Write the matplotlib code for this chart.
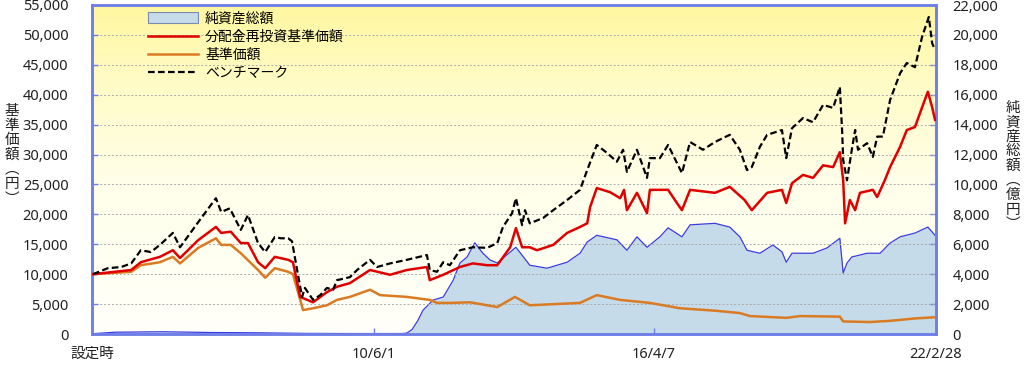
import matplotlib
matplotlib.use("Agg")
import matplotlib.pyplot as plt
import numpy as np
from matplotlib.patches import Patch
from matplotlib.lines import Line2D
from matplotlib.colors import LinearSegmentedColormap

plt.rcParams['font.family'] = ['Noto Sans', 'Noto Sans CJK JP', 'DejaVu Sans']

# ---- data (decimal years, values) ----
bm_t = [2004.54, 2004.85, 2005.13, 2005.34, 2005.54, 2005.75, 2005.94, 2006.21, 2006.36, 2006.74,
        2007.11, 2007.22, 2007.40, 2007.63, 2007.78, 2007.99, 2008.14, 2008.34, 2008.47, 2008.62,
        2008.70, 2008.80, 2008.91, 2008.97, 2009.14, 2009.29, 2009.43, 2009.56, 2009.64, 2009.91,
        2010.06, 2010.33, 2010.48, 2010.75, 2011.10, 2011.52, 2011.58, 2011.73, 2011.86, 2012.00,
        2012.21, 2012.48, 2012.78, 2012.99, 2013.11, 2013.30, 2013.38, 2013.51, 2013.57, 2013.67,
        2013.95, 2014.16, 2014.45, 2014.72, 2014.87, 2015.07, 2015.28, 2015.49, 2015.62, 2015.70,
        2015.91, 2016.12, 2016.18, 2016.39, 2016.56, 2016.85, 2017.02, 2017.29, 2017.54, 2017.85,
        2018.06, 2018.21, 2018.31, 2018.48, 2018.63, 2018.75, 2018.94, 2019.03, 2019.15, 2019.38,
        2019.59, 2019.80, 2020.01, 2020.15, 2020.20, 2020.22, 2020.30, 2020.40, 2020.47, 2020.53,
        2020.72, 2020.84, 2020.93, 2021.05, 2021.20, 2021.41, 2021.55, 2021.72, 2021.87, 2022.01,
        2022.08, 2022.14]
bm_v = [10000, 11000, 11200, 11800, 14000, 13700, 14900, 16900, 14500, 18700,
        22700, 20400, 21000, 17400, 19900, 15200, 13700, 16200, 16000, 16000,
        15500, 11000, 6200, 7700, 5700, 6500, 7700, 7400, 9000, 9500,
        10700, 12400, 11200, 11800, 12400, 13200, 10700, 10400, 12000, 11500,
        14000, 14500, 14400, 15200, 17900, 20200, 22700, 18200, 20700, 18500,
        19400, 20700, 22400, 24100, 27400, 31600, 30300, 28800, 30800, 27100,
        30800, 26100, 29400, 29400, 31600, 26900, 32100, 30800, 32100, 33300,
        30800, 27400, 27900, 31300, 33300, 33600, 34100, 29400, 34400, 36100,
        35400, 38300, 37800, 41300, 33600, 29100, 25700, 30800, 34100, 30800,
        31900, 29600, 33000, 33000, 39100, 43600, 45300, 44600, 49700, 53000,
        48600, 47500]

re_t = [2004.54, 2005.34, 2005.54, 2005.94, 2006.21, 2006.36, 2006.74, 2007.11, 2007.22, 2007.42,
        2007.63, 2007.78, 2007.99, 2008.14, 2008.34, 2008.62, 2008.72, 2008.87, 2009.14, 2009.43,
        2009.64, 2009.91, 2010.33, 2010.75, 2011.10, 2011.52, 2011.58, 2011.86, 2012.21, 2012.48,
        2012.78, 2012.99, 2013.26, 2013.38, 2013.51, 2013.67, 2013.82, 2014.16, 2014.45, 2014.72,
        2014.87, 2014.93, 2015.07, 2015.35, 2015.56, 2015.64, 2015.70, 2015.91, 2016.12, 2016.18,
        2016.56, 2016.77, 2016.85, 2017.02, 2017.54, 2017.85, 2018.16, 2018.31, 2018.63, 2018.94,
        2019.03, 2019.15, 2019.38, 2019.59, 2019.80, 2020.01, 2020.15, 2020.22, 2020.26, 2020.36,
        2020.47, 2020.57, 2020.84, 2020.93, 2021.09, 2021.20, 2021.41, 2021.55, 2021.72, 2021.87,
        2021.99, 2022.08, 2022.14]
re_v = [10000, 10700, 12000, 12900, 14000, 12700, 15700, 17900, 16900, 17100,
        15200, 15200, 12000, 11000, 12900, 12400, 12000, 6200, 5300, 7000,
        7900, 8500, 10700, 9900, 10700, 11200, 9000, 9900, 11200, 11800,
        11500, 11500, 14500, 17700, 14500, 14500, 14000, 14900, 16900, 17900,
        18500, 21200, 24400, 23700, 22700, 24100, 20700, 23600, 20200, 24100,
        24100, 21600, 20700, 24100, 23600, 24600, 22400, 20700, 23600, 24100,
        21900, 25200, 26600, 26100, 28200, 27900, 30400, 25700, 18500, 22400,
        20700, 23600, 24100, 22900, 25700, 27900, 31300, 34100, 34600, 37900,
        40500, 37900, 35800]

nav_t = [2004.54, 2005.34, 2005.54, 2005.94, 2006.21, 2006.36, 2006.74, 2007.11, 2007.22, 2007.42,
         2007.63, 2007.99, 2008.14, 2008.34, 2008.62, 2008.72, 2008.89, 2008.93, 2009.14, 2009.43,
         2009.64, 2009.91, 2010.33, 2010.54, 2011.10, 2011.58, 2011.73, 2012.00, 2012.42, 2012.78,
         2012.99, 2013.36, 2013.67, 2014.72, 2015.07, 2015.56, 2016.18, 2016.81, 2017.54, 2018.06,
         2018.27, 2019.03, 2019.32, 2020.15, 2020.22, 2020.78, 2021.20, 2021.72, 2022.14]
nav_v = [10000, 10400, 11500, 12000, 12900, 11800, 14400, 16000, 14900, 14900,
         13500, 10700, 9400, 11000, 10400, 10000, 5200, 4000, 4300, 4800,
         5700, 6200, 7400, 6500, 6200, 5700, 5200, 5200, 5300, 4800,
         4500, 6200, 4800, 5200, 6500, 5700, 5200, 4300, 3900, 3500,
         3000, 2700, 3000, 2900, 2100, 2000, 2200, 2600, 2800]

na_t = [2004.54, 2005.00, 2006.00, 2007.00, 2008.00, 2009.00, 2010.00, 2011.00, 2011.10, 2011.21,
        2011.33, 2011.44, 2011.65, 2011.86, 2012.07, 2012.21, 2012.36, 2012.52, 2012.69, 2012.84,
        2012.99, 2013.38, 2013.67, 2014.03, 2014.45, 2014.72, 2014.87, 2015.07, 2015.49, 2015.70,
        2015.91, 2016.12, 2016.39, 2016.56, 2016.85, 2017.02, 2017.54, 2017.85, 2018.06, 2018.21,
        2018.48, 2018.75, 2018.94, 2019.03, 2019.15, 2019.59, 2019.88, 2020.15, 2020.22, 2020.30,
        2020.40, 2020.72, 2020.99, 2021.20, 2021.41, 2021.72, 2021.99, 2022.14]
na_v = [20, 120, 150, 100, 80, 40, 30, 30, 60, 300,
        900, 1600, 2270, 2470, 3600, 4750, 5150, 6100, 5400, 4950,
        4750, 5800, 4600, 4400, 4800, 5400, 6150, 6600, 6300, 5600,
        6500, 5800, 6500, 7100, 6500, 7300, 7400, 7150, 6500, 5600,
        5400, 5950, 5500, 4800, 5400, 5400, 5750, 6400, 4080, 4750,
        5150, 5400, 5400, 6080, 6500, 6750, 7150, 6600]

tick_pos = [2004.52, 2010.414, 2016.266, 2022.16]
tick_labels = ['設定時', '10/6/1', '16/4/7', '22/2/28']
left_ticks = list(range(0, 55001, 5000))
right_ticks = list(range(0, 22001, 2000))

# ---- figure ----
fig = plt.figure(figsize=(10.24, 3.70), dpi=100)
ax = fig.add_axes([92/1024, 1-334/370, (936-92)/1024, (334-5)/370])
ax2 = ax.twinx()
ax.set_zorder(2)
ax.patch.set_visible(False)
ax2.set_zorder(1)

spine_c = '#6E7EE6'
# background gradient
cmap = LinearSegmentedColormap.from_list(
    'bg', [(0.0, '#FFFFFA'), (0.45, '#FFFFEA'), (0.75, '#FFFCC8'), (1.0, '#FFF7A0')])
grad = np.linspace(0, 1, 256).reshape(-1, 1)
ax2.imshow(grad, extent=[0, 1, 0, 1], transform=ax2.transAxes, aspect='auto',
           cmap=cmap, origin='lower', zorder=0)

ax2.fill_between(na_t, 0, na_v, color='#C5DBE9', zorder=1, linewidth=0)
ax2.plot(na_t, na_v, color='#3B3BE0', lw=0.9, zorder=2)
ax2.set_ylim(0, 22000)
ax2.set_yticks(right_ticks)
ax2.set_yticklabels([f'{v:,}' for v in right_ticks])

ax.plot(nav_t, nav_v, color='#DA7A22', lw=1.8, zorder=3)
ax.plot(re_t, re_v, color='#E00000', lw=1.8, zorder=4)
ax.plot(bm_t, bm_v, color='#000000', lw=1.6, ls=(0, (3, 1.5)), zorder=5)

ax.set_ylim(0, 55000)
ax.set_xlim(2004.52, 2022.16)
ax.set_yticks(left_ticks)
ax.set_yticklabels([f'{v:,}' for v in left_ticks])
ax.set_xticks(tick_pos)
ax.set_xticklabels(tick_labels)

for y in left_ticks[1:-1]:
    ax.axhline(y, color='#ABABAB', lw=0.7, ls=(0, (2, 2)), zorder=1)

for a in (ax, ax2):
    for s in a.spines.values():
        s.set_color(spine_c)
        s.set_linewidth(1.8)
    a.tick_params(direction='in', color=spine_c, length=4, width=1, labelsize=10.5,
                  labelcolor='#222222')
ax.tick_params(axis='y', pad=17)
ax2.tick_params(axis='y', pad=12)
ax.tick_params(axis='x', pad=9)

# axis titles (vertical stacked)
fig.text(12/1024, 1-155/370, '\n'.join('基準価額︵円︶'), ha='center', va='center',
         fontsize=10.5, linespacing=1.05, family=['Noto Sans CJK JP', 'DejaVu Sans'], color='#222222')
fig.text(1013/1024, 1-166/370, '\n'.join('純資産総額︵億円︶'), ha='center', va='center',
         fontsize=10.5, linespacing=1.05, family=['Noto Sans CJK JP', 'DejaVu Sans'], color='#222222')

handles = [Patch(facecolor='#C5DBE9', edgecolor='#7A8AB0', lw=0.8),
           Line2D([], [], color='#E00000', lw=1.8),
           Line2D([], [], color='#DA7A22', lw=1.8),
           Line2D([], [], color='#000000', lw=1.6, ls=(0, (3, 1.5)))]
labels = ['純資産総額', '分配金再投資基準価額', '基準価額', 'ベンチマーク']
leg = ax.legend(handles, labels, loc='upper left', bbox_to_anchor=(0.055, 1.01),
                frameon=False, handlelength=3.6, handleheight=0.8,
                handletextpad=0.5, labelspacing=0.3, borderaxespad=0.3,
                prop={'family': ['Noto Sans CJK JP', 'DejaVu Sans'], 'size': 10})

fig.savefig('out.png', dpi=100)
